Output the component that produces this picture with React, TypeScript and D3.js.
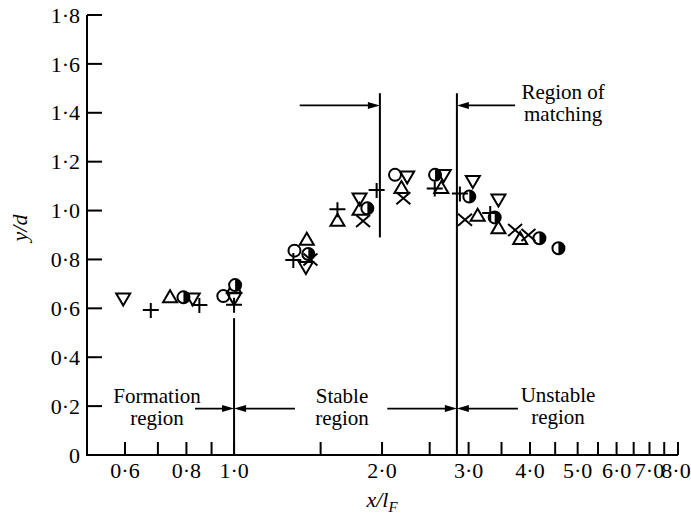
import React from 'react';
import * as d3 from 'd3';

// series: [x/lF, y/d]
const invTriangles = [[0.595, 0.641], [0.824, 0.641], [1.0, 0.642], [1.40, 0.77], [1.80, 1.05], [2.25, 1.14], [2.67, 1.146], [3.06, 1.122], [3.45, 1.046]];
const pluses = [[0.677, 0.593], [0.85, 0.614], [1.0, 0.615], [1.32, 0.798], [1.623, 1.005], [1.95, 1.084], [2.56, 1.09], [2.88, 1.07], [3.32, 0.99]];
const triangles = [[0.741, 0.645], [1.0, 0.683], [1.406, 0.88], [1.623, 0.957], [1.80, 1.002], [2.19, 1.091], [2.64, 1.091], [3.13, 0.978], [3.45, 0.927], [3.82, 0.883]];
const halfCircles = [[0.789, 0.645], [1.005, 0.695], [1.416, 0.822], [1.867, 1.009], [2.564, 1.146], [3.01, 1.057], [3.39, 0.972], [4.18, 0.887], [4.57, 0.846]];
const openCircles = [[0.951, 0.65], [1.327, 0.836], [2.125, 1.146]];
const crosses = [[1.43, 0.80], [1.83, 0.957], [2.21, 1.05], [2.95, 0.962], [3.73, 0.92], [3.97, 0.90]];

const xTicks = [0.6, 0.7, 0.8, 0.9, 1.0, 1.5, 2.0, 2.5, 3.0, 3.5, 4.0, 4.5, 5.0, 5.5, 6.0, 6.5, 7.0, 7.5, 8.0];
const xLabels = [0.6, 0.8, 1.0, 2.0, 3.0, 4.0, 5.0, 6.0, 7.0, 8.0];
const yTicks = [0, 0.2, 0.4, 0.6, 0.8, 1.0, 1.2, 1.4, 1.6, 1.8];

// region boundaries and the arrows pointing at them
const boundaries = [
  { x: 1.0, y0: 0, y1: 0.56 },
  { x: 1.98, y0: 0.89, y1: 1.48 },
  { x: 2.84, y0: 0, y1: 1.48 },
];
const arrows = [
  { from: 0.833, to: 1.0, y: 0.19 },
  { from: 1.33, to: 1.0, y: 0.19 },
  { from: 2.05, to: 2.84, y: 0.19 },
  { from: 3.78, to: 2.84, y: 0.19 },
  { from: 1.36, to: 1.98, y: 1.43 },
  { from: 3.73, to: 2.84, y: 1.43 },
];
const notes = [
  { lines: ['Formation', 'region'], x: 0.697, y: 0.212 },
  { lines: ['Stable', 'region'], x: 1.658, y: 0.212 },
  { lines: ['Unstable', 'region'], x: 4.56, y: 0.218 },
  { lines: ['Region of', 'matching'], x: 4.67, y: 1.457 },
];

const W = 691;
const H = 520;
const font = 'Liberation Serif, Times New Roman, serif';
const fmt = (v: number) => (v === 0 ? '0' : v.toFixed(1).replace('.', '·'));

export default function App() {
  const x = d3.scaleLog().domain([0.6, 8]).range([125, 678]);
  const y = d3.scaleLinear().domain([0, 1.8]).range([455, 15]);
  const sw = 2;
  const fs = 22;

  const tri = (px: number, py: number, down: boolean) => {
    const h = 12, w = 7;
    const s = down ? -1 : 1;
    return `M${px},${py - s * h * 0.6}L${px + w},${py + s * h * 0.4}L${px - w},${py + s * h * 0.4}Z`;
  };

  return (
    <svg width={W} height={H} style={{ position: 'absolute', left: 0, top: 0, background: '#fff', fontFamily: font }}>
      {/* axes */}
      <line x1={87} x2={87} y1={y(1.8)} y2={y(0)} stroke="#000" strokeWidth={2} />
      <line x1={86} x2={x(8)} y1={y(0)} y2={y(0)} stroke="#000" strokeWidth={2} />
      {yTicks.map((t) => (
        <g key={'y' + t}>
          <line x1={87} x2={102} y1={y(t)} y2={y(t)} stroke="#000" strokeWidth={2} />
          <text x={80} y={y(t)} dy="0.35em" textAnchor="end" fontSize={fs}>{fmt(t)}</text>
        </g>
      ))}
      {xTicks.map((t) => (
        <line key={'x' + t} x1={x(t)} x2={x(t)} y1={y(0)} y2={y(0) - 13} stroke="#000" strokeWidth={2} />
      ))}
      {xLabels.map((t) => (
        <text key={'xl' + t} x={Math.min(x(t), W - 15)} y={478} textAnchor="middle" fontSize={fs}>{fmt(t)}</text>
      ))}
      <text x={382} y={507} textAnchor="middle" fontSize={fs} fontStyle="italic">
        x/l<tspan fontSize={15} dy={5}>F</tspan>
      </text>
      <text transform={`translate(27,${228}) rotate(-90)`} textAnchor="middle" fontSize={fs} fontStyle="italic">y/d</text>

      {/* region boundaries */}
      {boundaries.map((b, i) => (
        <line key={'b' + i} x1={x(b.x)} x2={x(b.x)} y1={y(b.y0)} y2={y(b.y1)} stroke="#000" strokeWidth={2} />
      ))}
      {arrows.map((a, i) => {
        const x0 = x(a.from), x1 = x(a.to), yy = y(a.y);
        const d = Math.sign(x1 - x0);
        return (
          <g key={'a' + i}>
            <line x1={x0} x2={x1 - d * 6} y1={yy} y2={yy} stroke="#000" strokeWidth={1.8} />
            <path d={`M${x1},${yy}L${x1 - d * 12},${yy - 3.5}L${x1 - d * 12},${yy + 3.5}Z`} fill="#000" />
          </g>
        );
      })}
      {notes.map((n, i) =>
        n.lines.map((l, j) => (
          <text key={'n' + i + j} x={x(n.x)} y={y(n.y) + j * 22} textAnchor="middle" fontSize={21}>{l}</text>
        ))
      )}

      {/* markers */}
      {invTriangles.map(([a, b], i) => (
        <path key={'it' + i} d={tri(x(a), y(b), true)} fill="none" stroke="#000" strokeWidth={sw} />
      ))}
      {triangles.map(([a, b], i) => (
        <path key={'t' + i} d={tri(x(a), y(b), false)} fill="none" stroke="#000" strokeWidth={sw} />
      ))}
      {openCircles.map(([a, b], i) => (
        <circle key={'oc' + i} cx={x(a)} cy={y(b)} r={6} fill="none" stroke="#000" strokeWidth={sw} />
      ))}
      {halfCircles.map(([a, b], i) => (
        <g key={'hc' + i}>
          <circle cx={x(a)} cy={y(b)} r={6} fill="#fff" stroke="#000" strokeWidth={sw} />
          <path d={`M${x(a)},${y(b) - 6}A6,6 0 0 1 ${x(a)},${y(b) + 6}Z`} fill="#000" />
        </g>
      ))}
      {pluses.map(([a, b], i) => (
        <path key={'p' + i} d={`M${x(a) - 8},${y(b)}H${x(a) + 8}M${x(a)},${y(b) - 7}V${y(b) + 8}`} stroke="#000" strokeWidth={sw} />
      ))}
      {crosses.map(([a, b], i) => (
        <path key={'c' + i} d={`M${x(a) - 7},${y(b) - 6}L${x(a) + 7},${y(b) + 6}M${x(a) + 7},${y(b) - 6}L${x(a) - 7},${y(b) + 6}`} stroke="#000" strokeWidth={sw} />
      ))}
    </svg>
  );
}
